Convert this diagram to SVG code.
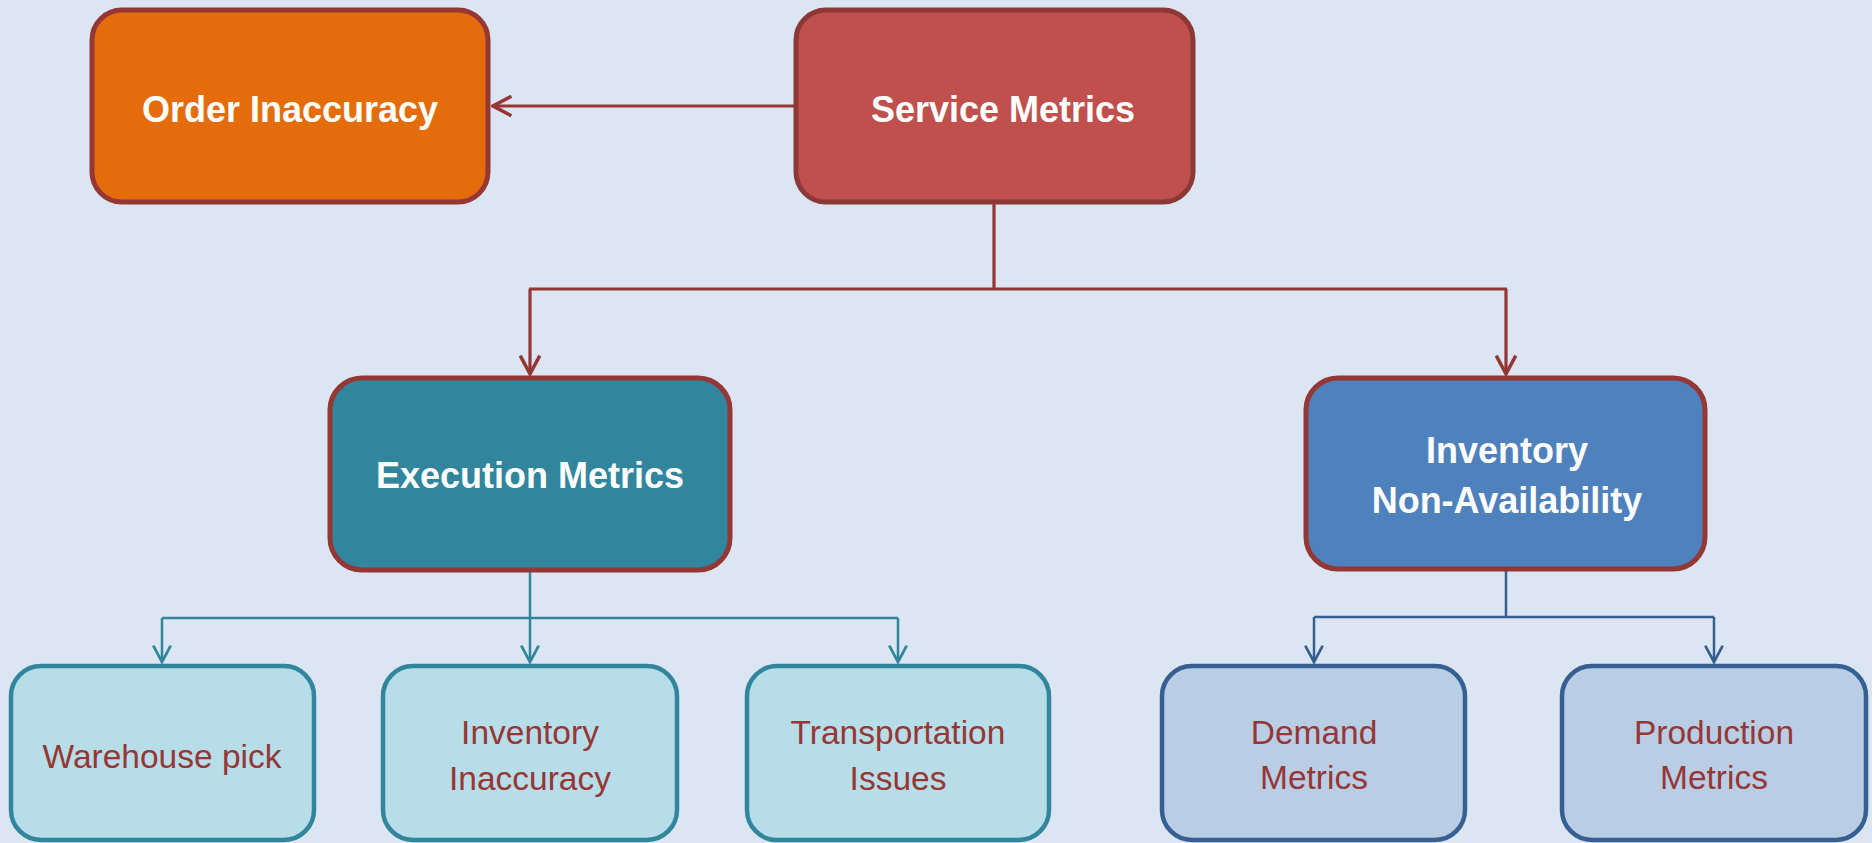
<svg xmlns="http://www.w3.org/2000/svg" width="1872" height="843" viewBox="0 0 1872 843">
<defs>
<style>
.t{font-family:"Liberation Sans",Arial,sans-serif;text-anchor:middle}
.w{fill:#ffffff;font-weight:bold;font-size:36px}
.d{fill:#953735;font-size:33.5px}
.top{stroke-width:5}
.low{stroke-width:4.5}
.cr{fill:none;stroke:#953735;stroke-width:3.2}
.ct{fill:none;stroke:#31859C;stroke-width:2.5}
.cb{fill:none;stroke:#376092;stroke-width:2.5}
</style>
<marker id="ar" markerUnits="userSpaceOnUse" markerWidth="26" markerHeight="26" viewBox="-22 -12 24 24" refX="0" refY="0" orient="auto">
<path d="M-17,-9 L0,0 L-17,9" fill="none" stroke="#953735" stroke-width="3.2"/>
</marker>
<marker id="at" markerUnits="userSpaceOnUse" markerWidth="24" markerHeight="24" viewBox="-20 -10 22 20" refX="0" refY="0" orient="auto">
<path d="M-15,-8 L0,0 L-15,8" fill="none" stroke="#31859C" stroke-width="2.5"/>
</marker>
<marker id="ab" markerUnits="userSpaceOnUse" markerWidth="24" markerHeight="24" viewBox="-20 -10 22 20" refX="0" refY="0" orient="auto">
<path d="M-15,-8 L0,0 L-15,8" fill="none" stroke="#376092" stroke-width="2.5"/>
</marker>
</defs>
<rect width="1872" height="843" fill="#DCE6F2"/>
<g id="connectors">
<path class="cr" d="M794,106 L493,106" marker-end="url(#ar)"/>
<path class="cr" d="M994,204 L994,289 M529,289 L1507,289"/>
<path class="cr" d="M530,289 L530,374" marker-end="url(#ar)"/>
<path class="cr" d="M1506,289 L1506,374" marker-end="url(#ar)"/>
<path class="ct" d="M530,572 L530,618 M162,618 L898,618"/>
<path class="ct" d="M162,618 L162,662" marker-end="url(#at)"/>
<path class="ct" d="M530,618 L530,662" marker-end="url(#at)"/>
<path class="ct" d="M898,618 L898,662" marker-end="url(#at)"/>
<path class="cb" d="M1506,571 L1506,617 M1314,617 L1714,617"/>
<path class="cb" d="M1314,617 L1314,662" marker-end="url(#ab)"/>
<path class="cb" d="M1714,617 L1714,662" marker-end="url(#ab)"/>
</g>
<g id="order-inaccuracy">
<rect class="top" x="92" y="10" width="396" height="192" rx="30" fill="#E46C0A" stroke="#953735"/>
<text class="t w" x="290" y="122">Order Inaccuracy</text>
</g>
<g id="service-metrics">
<rect class="top" x="796" y="10" width="397" height="192" rx="30" fill="#C0504D" stroke="#8C3836"/>
<text class="t w" x="1003" y="122">Service Metrics</text>
</g>
<g id="execution-metrics">
<rect class="top" x="330" y="378" width="400" height="192" rx="32" fill="#31859C" stroke="#953735"/>
<text class="t w" x="530" y="488">Execution Metrics</text>
</g>
<g id="inventory-non-availability">
<rect class="top" x="1306" y="378" width="399" height="191" rx="32" fill="#4F81BD" stroke="#953735"/>
<text class="t w" x="1507" y="463">Inventory</text>
<text class="t w" x="1507" y="513">Non-Availability</text>
</g>
<g id="warehouse-pick">
<rect class="low" x="11" y="666" width="303" height="174" rx="30" fill="#B7DEE8" stroke="#31859C"/>
<text class="t d" x="162" y="768">Warehouse pick</text>
</g>
<g id="inventory-inaccuracy">
<rect class="low" x="383" y="666" width="294" height="174" rx="30" fill="#B7DEE8" stroke="#31859C"/>
<text class="t d" x="530" y="744">Inventory</text>
<text class="t d" x="530" y="790">Inaccuracy</text>
</g>
<g id="transportation-issues">
<rect class="low" x="747" y="666" width="302" height="174" rx="30" fill="#B7DEE8" stroke="#31859C"/>
<text class="t d" x="898" y="744">Transportation</text>
<text class="t d" x="898" y="790">Issues</text>
</g>
<g id="demand-metrics">
<rect class="low" x="1162" y="666" width="303" height="174" rx="30" fill="#B9CDE5" stroke="#376092"/>
<text class="t d" x="1314" y="744">Demand</text>
<text class="t d" x="1314" y="789">Metrics</text>
</g>
<g id="production-metrics">
<rect class="low" x="1562" y="666" width="304" height="174" rx="30" fill="#B9CDE5" stroke="#376092"/>
<text class="t d" x="1714" y="744">Production</text>
<text class="t d" x="1714" y="789">Metrics</text>
</g>
</svg>
